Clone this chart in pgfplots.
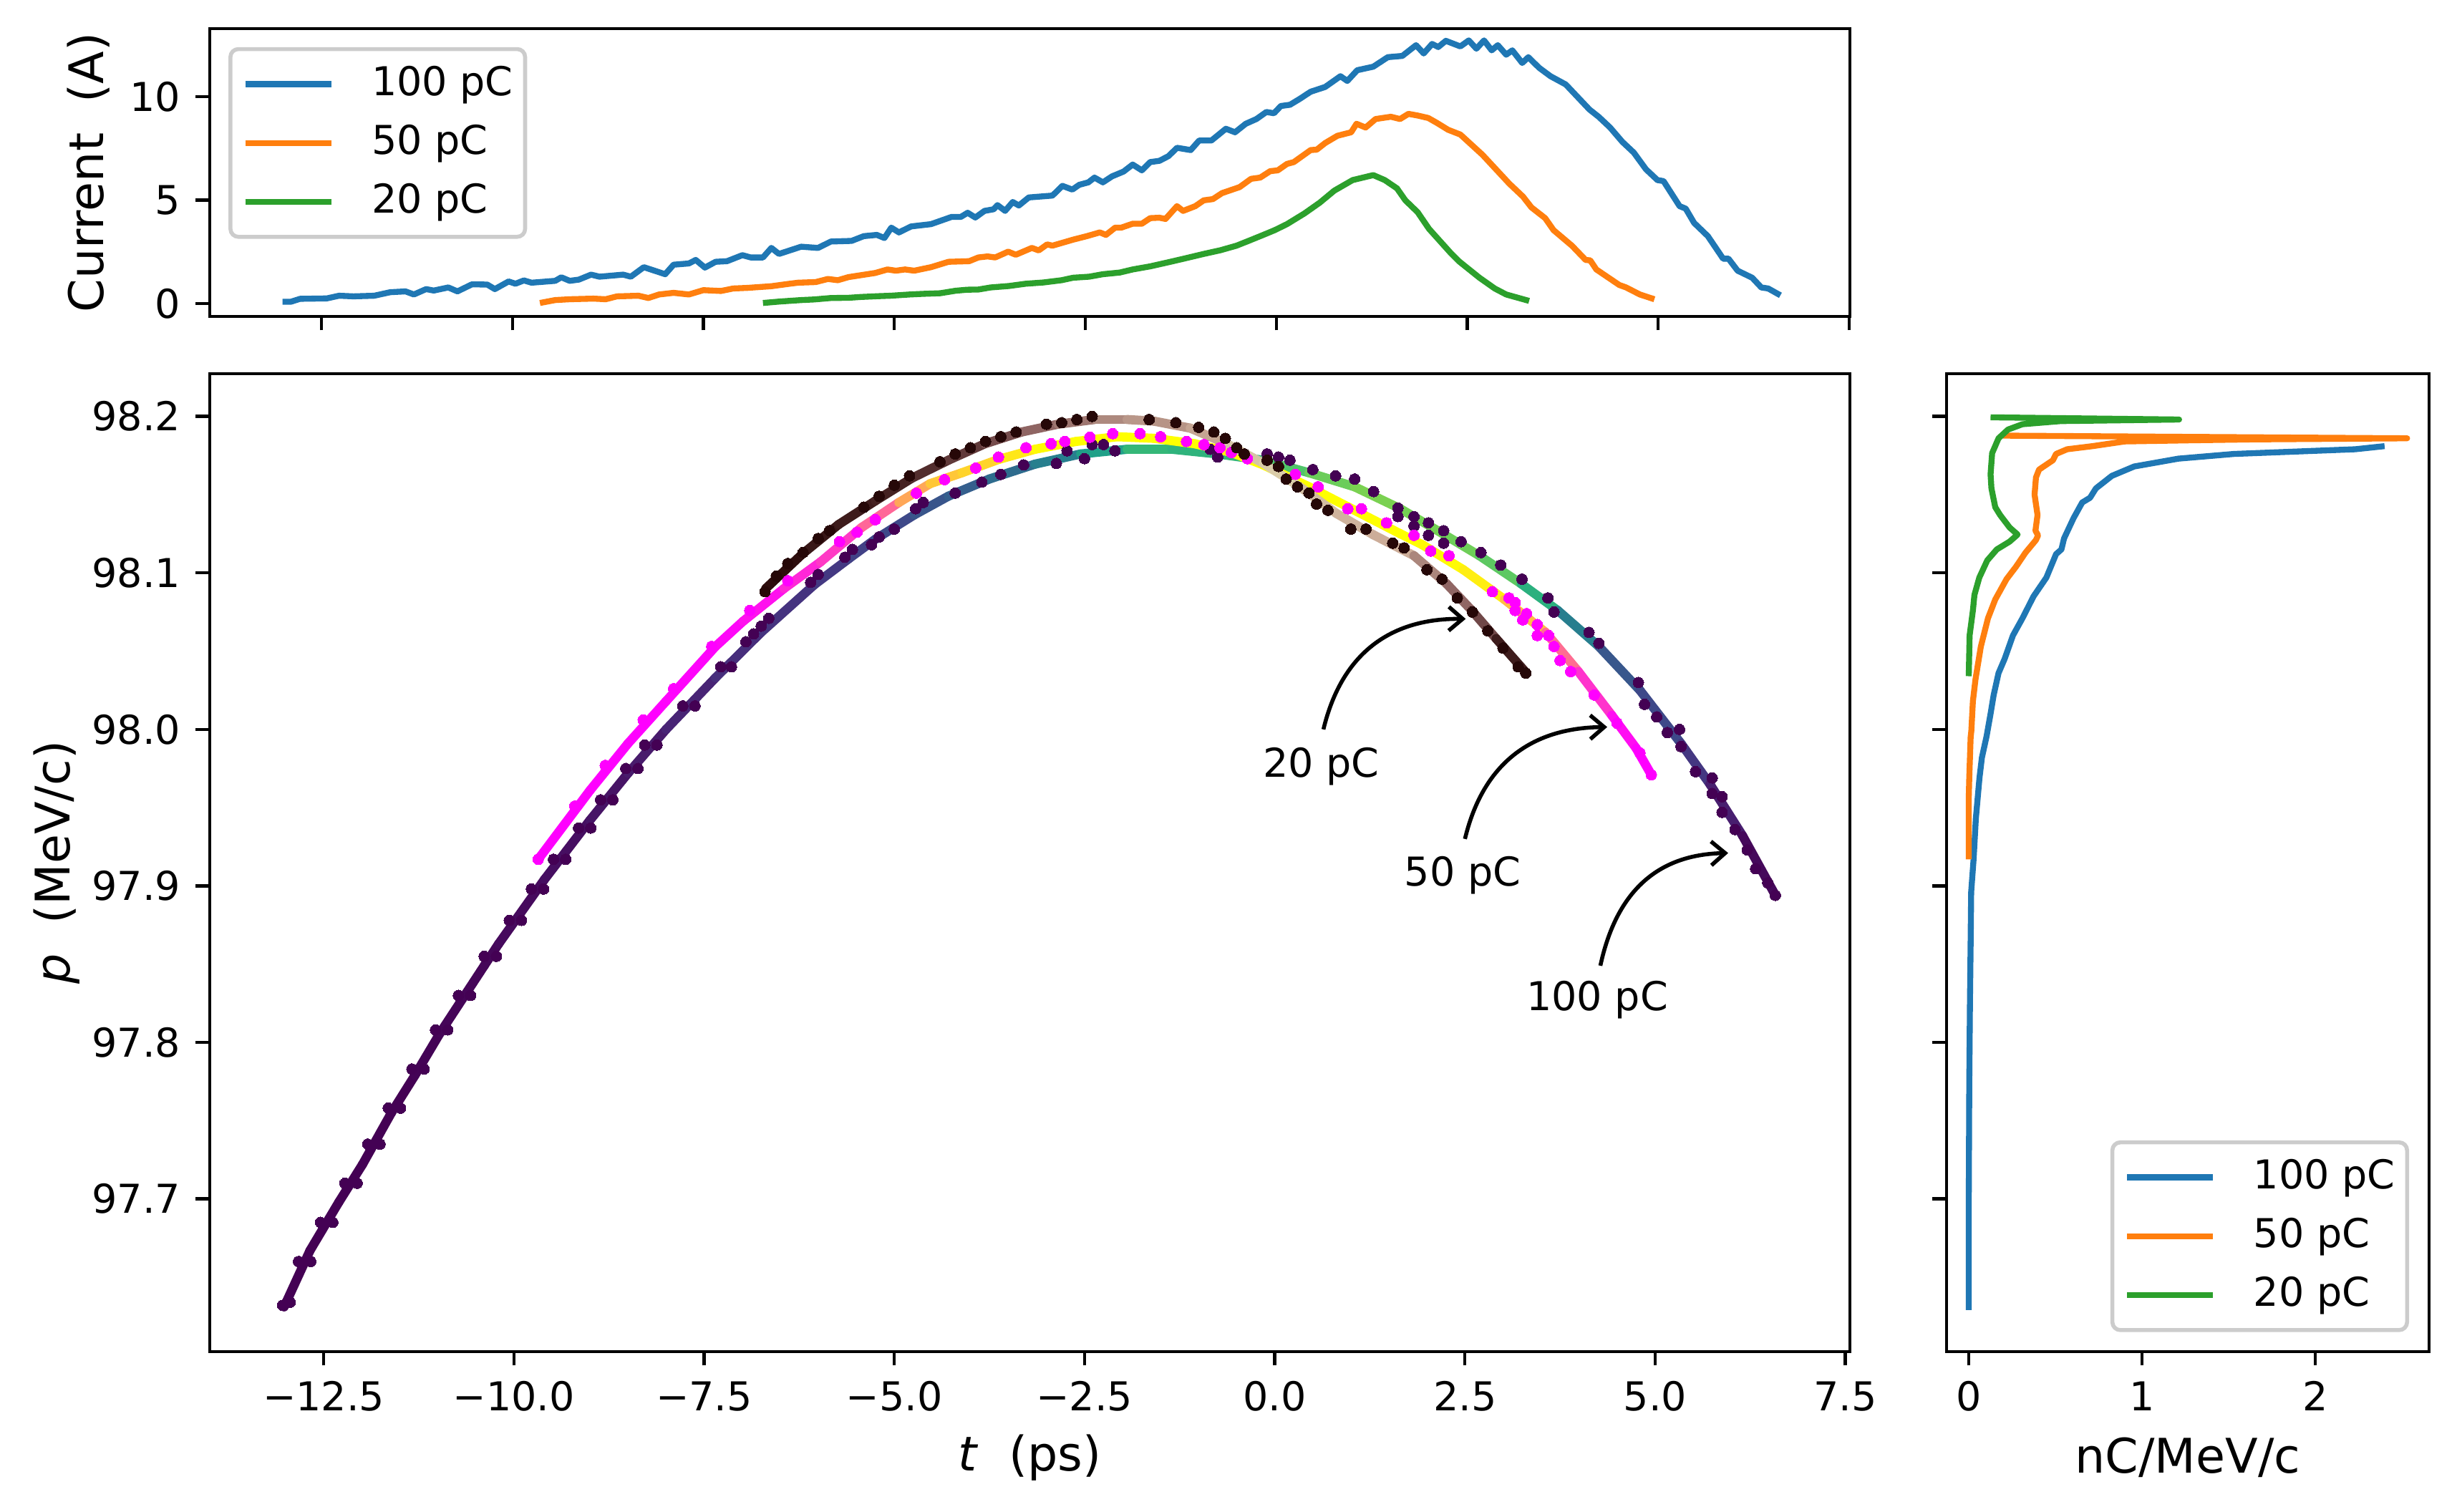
\documentclass[border=0pt]{standalone}
\usepackage{fontspec}
\setmainfont{DejaVu Sans}
\usepackage{pgfplots}
\pgfplotsset{compat=1.18}
\usetikzlibrary{arrows.meta}

\definecolor{c100}{HTML}{1F77B4}
\definecolor{c50}{HTML}{FF7F0E}
\definecolor{c20}{HTML}{2CA02C}
\definecolor{beadv}{HTML}{440154}
\definecolor{beadm}{HTML}{FF00FF}
\definecolor{beadp}{HTML}{260808}

\pgfplotsset{
  colormap={springmap}{rgb=(1,0,1) rgb=(1,1,0)},
  colormap={pinkmap}{rgb=(.118,0,0) rgb=(.54,.37,.37) rgb=(.80,.68,.60) rgb=(.90,.90,.72) rgb=(1,1,1)},
  panel/.style={
    scale only axis,
    axis line style={line width=.8pt},
    major tick length=3.5pt,
    major tick style={line width=.8pt,black},
    tick align=outside,
    tick pos=left,
    scaled ticks=false,
    tick label style={font=\fontsize{10}{12}\selectfont},
    label style={font=\fontsize{12}{14}\selectfont},
    xticklabel style={inner sep=0pt,yshift=-11.3pt,anchor=base,text height=7.3pt},
    yticklabel style={inner sep=0pt,xshift=-3.6pt},
    legend image code/.code={\draw[#1] (0pt,0pt) -- (21.6pt,0pt);},
    legend cell align=left,
  },
  lg/.style={
    draw=black!20,
    line width=1pt,
    rounded corners=2pt,
    fill=white,
    inner xsep=3pt,
    inner ysep=4pt,
    column sep=9.4pt,
    row sep=5.2pt,
    nodes={inner sep=0pt,text height=7.6pt,text depth=2pt,font=\fontsize{10}{12}\selectfont},
  },
  cur/.style={line width=1.5pt,line join=round},
  strand/.style={mesh,point meta=explicit,line width=2.3pt,line cap=round},
  bead/.style={only marks,color=#1,mark=*,mark size=1.35pt,mark options={solid,draw=#1,fill=#1,line width=0pt}},
}

\begin{document}
\begin{tikzpicture}
\path[use as bounding box] (0,0) rectangle (617.76pt,379.98pt);

% current profiles
\begin{axis}[
  panel,
  at={(52.69pt,300.42pt)},
  width=412.43pt, height=72.36pt,
  xmin=-13.965, xmax=7.51,
  ymin=-0.62, ymax=13.29,
  xtick={-12.5,-10,-7.5,-5,-2.5,0,2.5,5,7.5},
  xticklabels={},
  ytick={0,5,10},
  yticklabels={0,5,10},
  ylabel={Current\ \ (A)},
  ylabel style={at={(axis description cs:-0.0736,0.5)},anchor=center},
  legend style={lg,at={(axis description cs:0.0115,0.9358)},anchor=north west},
]
\addplot[cur,c100] table {
-13.01 .09
-12.9 .09
-12.78 .23
-12.43 .25
-12.27 .38
-12.08 .35
-11.81 .38
-11.6 .55
-11.4 .59
-11.29 .44
-11.13 .70
-11.03 .63
-10.84 .78
-10.72 .59
-10.53 .93
-10.33 .92
-10.23 .70
-10.05 1.07
-9.96 .96
-9.85 1.12
-9.75 1.01
-9.44 1.10
-9.36 1.27
-9.25 1.10
-9.13 1.16
-8.97 1.40
-8.86 1.30
-8.55 1.40
-8.45 1.30
-8.28 1.76
-8.0 1.42
-7.89 1.88
-7.69 1.94
-7.6 2.11
-7.48 1.74
-7.34 2.02
-7.19 2.05
-6.99 2.34
-6.88 2.23
-6.72 2.23
-6.61 2.69
-6.51 2.40
-6.22 2.75
-6.0 2.69
-5.83 3.0
-5.56 3.03
-5.4 3.26
-5.23 3.32
-5.13 3.17
-5.04 3.67
-4.94 3.44
-4.78 3.73
-4.52 3.84
-4.25 4.19
-4.13 4.19
-4.04 4.39
-3.94 4.16
-3.82 4.48
-3.70 4.56
-3.65 4.76
-3.55 4.48
-3.45 4.91
-3.37 4.74
-3.24 5.13
-2.93 5.22
-2.8 5.69
-2.67 5.51
-2.58 5.74
-2.46 5.86
-2.38 6.09
-2.27 5.86
-2.15 6.15
-2.0 6.38
-1.88 6.72
-1.76 6.44
-1.65 6.84
-1.53 6.90
-1.41 7.13
-1.30 7.53
-1.12 7.42
-1.01 7.88
-.85 7.88
-.66 8.45
-.54 8.28
-.40 8.69
-.26 8.92
-.13 9.26
-.03 9.20
.06 9.55
.18 9.61
.31 9.90
.45 10.24
.64 10.47
.84 10.99
.93 10.76
1.06 11.28
1.27 11.45
1.46 11.91
1.65 11.97
1.83 12.49
1.93 12.09
2.04 12.55
2.12 12.40
2.22 12.70
2.41 12.43
2.52 12.72
2.62 12.32
2.72 12.72
2.82 12.24
2.90 12.49
3.01 12.03
3.09 12.24
3.22 11.63
3.30 11.91
3.44 11.40
3.59 10.99
3.79 10.59
4.10 9.38
4.22 9.03
4.37 8.51
4.53 7.82
4.68 7.30
4.84 6.49
4.99 5.97
5.07 5.92
5.28 4.71
5.36 4.59
5.47 3.90
5.65 3.26
5.85 2.17
5.92 2.17
6.04 1.59
6.23 1.25
6.35 .78
6.44 .73
6.6 .40
};
\addplot[cur,c50] table {
-9.64 .03
-9.44 .17
-9.25 .21
-8.94 .24
-8.78 .21
-8.63 .35
-8.35 .38
-8.22 .27
-8.08 .44
-7.89 .52
-7.69 .44
-7.5 .65
-7.27 .61
-7.11 .73
-6.92 .76
-6.61 .84
-6.37 .96
-6.26 1.01
-6.03 1.04
-5.87 1.19
-5.74 1.13
-5.6 1.28
-5.25 1.48
-5.09 1.65
-4.98 1.59
-4.86 1.65
-4.74 1.59
-4.52 1.76
-4.29 2.02
-4.02 2.05
-3.90 2.23
-3.78 2.28
-3.68 2.23
-3.51 2.51
-3.41 2.36
-3.20 2.69
-3.11 2.57
-3.0 2.86
-2.93 2.80
-2.66 3.09
-2.48 3.26
-2.31 3.44
-2.23 3.32
-2.11 3.67
-2.03 3.67
-1.88 3.86
-1.76 3.86
-1.65 4.13
-1.53 4.15
-1.45 4.09
-1.30 4.71
-1.22 4.48
-1.06 4.71
-.95 4.99
-.83 5.05
-.71 5.34
-.48 5.63
-.33 6.03
-.21 6.09
-.08 6.40
.02 6.44
.14 6.75
.23 6.84
.45 7.42
.53 7.44
.64 7.76
.80 8.11
.98 8.28
1.05 8.69
1.17 8.51
1.30 8.92
1.50 9.03
1.62 8.92
1.73 9.17
1.85 9.09
1.99 8.97
2.10 8.74
2.25 8.40
2.41 8.17
2.70 7.19
3.05 5.80
3.23 5.17
3.34 4.65
3.52 4.13
3.63 3.55
3.87 2.80
4.05 2.11
4.11 2.09
4.19 1.65
4.49 .90
4.58 .78
4.76 .44
4.95 .21
};
\addplot[cur,c20] table {
-6.72 .03
-6.5 .10
-6.22 .17
-6.05 .20
-5.83 .27
-5.6 .28
-5.44 .32
-5.2 .36
-5.05 .38
-4.8 .44
-4.63 .47
-4.4 .50
-4.2 .62
-4.05 .67
-3.9 .68
-3.74 .78
-3.5 .85
-3.28 .96
-3.05 1.02
-2.81 1.13
-2.66 1.25
-2.45 1.30
-2.27 1.42
-2.05 1.50
-1.88 1.65
-1.65 1.80
-1.41 2.0
-1.2 2.18
-.95 2.40
-.73 2.58
-.52 2.80
-.35 3.05
-.17 3.32
-.02 3.55
.14 3.84
.37 4.36
.57 4.88
.76 5.46
1.0 5.97
1.27 6.21
1.42 5.97
1.58 5.57
1.69 4.99
1.85 4.42
2.0 3.61
2.28 2.46
2.39 2.05
2.66 1.25
2.86 .73
3.01 .44
3.31 .13
};
\legend{100 pC,50 pC,20 pC}
\end{axis}

% longitudinal phase space
\begin{axis}[
  panel,
  at={(52.69pt,40.14pt)},
  width=412.43pt, height=245.88pt,
  xmin=-14.0, xmax=7.56,
  ymin=97.6024, ymax=98.2273,
  point meta min=0, point meta max=1,
  xtick={-12.5,-10,-7.5,-5,-2.5,0,2.5,5,7.5},
  xticklabels={−12.5,−10.0,−7.5,−5.0,−2.5,0.0,2.5,5.0,7.5},
  ytick={97.7,97.8,97.9,98.0,98.1,98.2},
  yticklabels={97.7,97.8,97.9,98.0,98.1,98.2},
  xlabel={\textit{t}\ \ (ps)},
  xlabel style={at={(axis description cs:0.5,-0.1083)},anchor=center},
  ylabel={\textit{p}\ \ (MeV/c)},
  ylabel style={at={(axis description cs:-0.0933,0.5)},anchor=center},
]
% 100 pC
\addplot[strand,colormap/viridis] table[x=t,y=p,meta=c] {
t p c
-13.02 97.631 0
-12.68 97.667 0
-12.3 97.698 0
-11.99 97.722 0
-11.61 97.755 0
-11.3 97.779 0
-10.97 97.806 .01
-10.39 97.849 .01
-10.2 97.863 .02
-9.6 97.904 .03
-9.0 97.942 .04
-8.5 97.972 .06
-8.0 98.0 .08
-7.35 98.033 .12
-6.75 98.062 .14
-6.05 98.0925 .15
-5.6 98.109 .18
-5.25 98.1215 .2
-4.74 98.137 .24
-4.29 98.149 .28
-3.75 98.16 .32
-3.15 98.1695 .38
-2.55 98.176 .48
-1.94 98.179 .65
-1.35 98.179 .68
-.75 98.176 .62
-.15 98.172 .7
.45 98.164 .75
1.05 98.155 .8
1.65 98.141 .8
2.21 98.125 .78
2.69 98.111 .78
3.24 98.093 .72
3.72 98.076 .55
4.26 98.053 .3
4.8 98.025 .24
5.34 97.991 .2
5.72 97.965 .12
6.15 97.932 .04
6.58 97.894 0
};
\addplot[bead=beadv] table {
-13.04 97.632
-12.94 97.634
-12.83 97.66
-12.67 97.66
-12.54 97.685
-12.38 97.685
-12.22 97.71
-12.06 97.71
-11.92 97.735
-11.76 97.735
-11.65 97.758
-11.49 97.758
-11.34 97.783
-11.18 97.783
-11.03 97.808
-10.87 97.808
-10.73 97.83
-10.57 97.83
-10.39 97.855
-10.23 97.855
-10.06 97.878
-9.9 97.878
-9.77 97.898
-9.61 97.898
-9.48 97.917
-9.32 97.917
-9.15 97.937
-8.99 97.937
-8.86 97.955
-8.7 97.955
-8.53 97.975
-8.37 97.975
-8.28 97.99
-8.12 97.99
-7.78 98.015
-7.62 98.015
-7.28 98.04
-7.14 98.04
-6.95 98.056
-6.85 98.061
-6.75 98.066
-6.65 98.071
-6.1 98.094
-6.0 98.099
-5.65 98.11
-5.55 98.115
-5.3 98.118
-5.2 98.123
-5.0 98.128
-4.72 98.141
-4.62 98.145
-4.2 98.151
-3.85 98.158
-3.6 98.163
-3.3 98.169
-2.87 98.170
-2.73 98.178
-2.5 98.173
-2.4 98.182
-2.25 98.182
-2.1 98.178
-.85 98.179
-.75 98.174
-.1 98.176
.05 98.174
.2 98.172
.5 98.166
.8 98.162
1.05 98.16
1.3 98.152
1.62 98.1415
1.62 98.136
1.83 98.136
1.83 98.130
2.02 98.132
2.02 98.124
2.22 98.127
2.22 98.119
2.45 98.12
2.71 98.113
2.97 98.105
3.25 98.096
3.59 98.084
3.67 98.075
4.13 98.062
4.26 98.055
4.78 98.03
4.86 98.016
5.02 98.008
5.16 97.998
5.32 98.0
5.34 97.989
5.53 97.973
5.75 97.969
5.75 97.959
5.88 97.957
5.88 97.947
6.05 97.936
6.21 97.923
6.32 97.911
6.48 97.902
6.58 97.894
};
% 50 pC
\addplot[strand,colormap name=springmap] table[x=t,y=p,meta=c] {
t p c
-9.68 97.917 0
-9 97.961 0
-8.5 97.991 0
-8 98.018 0
-7.35 98.053 .02
-6.99 98.069 .03
-6.45 98.09 .1
-5.97 98.107 .2
-5.43 98.129 .25
-4.94 98.145 .55
-4.53 98.157 .75
-4.11 98.164 .8
-3.63 98.1725 .85
-3.15 98.179 .95
-2.61 98.184 1
-2.07 98.187 1
-1.59 98.186 1
-1.05 98.1825 1
-.57 98.177 1
-.15 98.169 1
.45 98.155 1
1.05 98.14 1
1.65 98.125 1
1.94 98.118 1
2.48 98.102 .95
3.02 98.083 .9
3.56 98.062 .55
3.99 98.037 .3
4.43 98.009 .1
4.75 97.988 0
4.95 97.971 0
};
\addplot[bead=beadm] table {
-9.68 97.917
-9.2 97.951
-8.8 97.977
-8.3 98.006
-7.9 98.026
-7.4 98.053
-6.9 98.076
-6.4 98.095
-5.72 98.12
-5.49 98.126
-5.25 98.134
-4.71 98.151
-4.34 98.1596
-3.93 98.167
-3.63 98.174
-3.27 98.18
-2.94 98.1825
-2.76 98.184
-2.43 98.1867
-2.13 98.189
-1.77 98.189
-1.5 98.187
-1.16 98.184
-.93 98.182
-.72 98.18
-.57 98.177
-.36 98.173
.27 98.163
.57 98.155
.96 98.141
1.14 98.141
1.47 98.132
1.83 98.124
2.05 98.114
2.29 98.111
2.86 98.088
3.08 98.084
3.16 98.081
3.16 98.076
3.31 98.074
3.26 98.07
3.45 98.067
3.45 98.06
3.6 98.06
3.67 98.053
3.75 98.044
3.89 98.037
4.2 98.022
4.5 98.004
4.8 97.985
4.95 97.971
};
% 20 pC
\addplot[strand,colormap name=pinkmap] table[x=t,y=p,meta=c] {
t p c
-6.69 98.09 .02
-6.21 98.112 .05
-5.73 98.131 .07
-5.25 98.146 .08
-4.77 98.1605 .1
-4.29 98.172 .14
-3.81 98.1825 .17
-3.33 98.19 .24
-2.85 98.195 .3
-2.37 98.198 .35
-1.94 98.198 .42
-1.59 98.197 .44
-1.11 98.1925 .4
-.63 98.1825 .55
-.15 98.17 .65
.33 98.155 .62
.81 98.138 .5
1.29 98.1245 .55
1.83 98.111 .45
2.26 98.093 .3
2.59 98.076 .25
2.91 98.058 .13
3.29 98.037 .02
};
\addplot[bead=beadp] table {
-6.7 98.088
-6.55 98.098
-6.4 98.106
-6.2 98.113
-6.0 98.122
-5.85 98.127
-5.4 98.142
-5.2 98.149
-5.0 98.156
-4.8 98.162
-4.4 98.171
-4.2 98.176
-4.0 98.18
-3.8 98.184
-3.6 98.187
-3.4 98.19
-3.0 98.195
-2.8 98.196
-2.6 98.198
-2.4 98.2
-1.65 98.198
-1.3 98.196
-1.0 98.193
-.8 98.19
-.65 98.186
-.5 98.18
-.4 98.176
-.1 98.172
.05 98.168
.15 98.16
.3 98.155
.45 98.151
.55 98.144
.7 98.14
1.0 98.128
1.2 98.128
1.55 98.119
1.7 98.116
2.0 98.102
2.2 98.096
2.4 98.084
2.6 98.075
2.8 98.063
3.0 98.052
3.2 98.04
3.3 98.036
};
% annotations
\draw[line width=1pt,-{Straight Barb[length=3.5pt,width=6pt]}] (axis cs:.64,98.0) .. controls (axis cs:.874,98.0474) and (axis cs:1.496,98.0711) .. (axis cs:2.51,98.0706);
\draw[line width=1pt,-{Straight Barb[length=3.5pt,width=6pt]}] (axis cs:2.5,97.93) .. controls (axis cs:2.734,97.9774) and (axis cs:3.356,98.0011) .. (axis cs:4.37,98.0015);
\draw[line width=1pt,-{Straight Barb[length=3.5pt,width=6pt]}] (axis cs:4.28,97.849) .. controls (axis cs:4.49,97.8964) and (axis cs:5.03,97.9201) .. (axis cs:5.96,97.921);
\node[font=\fontsize{10}{12}\selectfont,inner sep=0pt] at (axis cs:.61,97.9765) {20 pC};
\node[font=\fontsize{10}{12}\selectfont,inner sep=0pt] at (axis cs:2.47,97.9066) {50 pC};
\node[font=\fontsize{10}{12}\selectfont,inner sep=0pt] at (axis cs:4.24,97.827) {100 pC};
\end{axis}

% momentum spectra
\begin{axis}[
  panel,
  at={(489.37pt,40.14pt)},
  width=121.37pt, height=245.88pt,
  xmin=-0.129, xmax=2.657,
  ymin=97.6024, ymax=98.2273,
  xtick={0,1,2},
  xticklabels={0,1,2},
  ytick={97.7,97.8,97.9,98.0,98.1,98.2},
  yticklabels={},
  xlabel={nC/MeV/c},
  xlabel style={at={(axis description cs:0.5,-0.1083)},anchor=center},
  legend style={lg,at={(axis description cs:0.9585,0.02)},anchor=south east},
]
\addplot[cur,c100] table {
0 97.629
0 97.694
.003 97.772
.007 97.825
.011 97.864
.014 97.896
.028 97.917
.041 97.943
.062 97.969
.076 97.982
.103 97.9956
.126 98.010
.144 98.022
.172 98.036
.207 98.045
.255 98.06
.31 98.071
.374 98.085
.448 98.097
.504 98.112
.535 98.115
.55 98.122
.605 98.135
.655 98.145
.70 98.148
.734 98.154
.826 98.162
.955 98.168
1.21 98.173
1.53 98.176
2.23 98.179
2.40 98.181
};
\addplot[cur,c50] table {
0 97.917
0 97.956
.003 97.969
.011 97.995
.015 97.999
.024 98.018
.039 98.032
.07 98.053
.111 98.071
.153 98.083
.218 98.096
.273 98.104
.328 98.113
.388 98.121
.40 98.124
.385 98.127
.397 98.137
.38 98.150
.388 98.161
.406 98.166
.486 98.172
.504 98.176
.568 98.179
.715 98.181
.90 98.184
1.27 98.1847
1.64 98.1853
2.53 98.186
.198 98.1877
};
\addplot[cur,c20] table {
0 98.034
.005 98.060
.024 98.076
.033 98.086
.061 98.097
.107 98.108
.162 98.115
.236 98.12
.282 98.1245
.236 98.129
.181 98.137
.153 98.142
.131 98.154
.126 98.163
.135 98.1765
.172 98.186
.227 98.1916
.31 98.195
.531 98.197
1.214 98.198
.126 98.1994
};
\legend{100 pC,50 pC,20 pC}
\end{axis}
\end{tikzpicture}
\end{document}
